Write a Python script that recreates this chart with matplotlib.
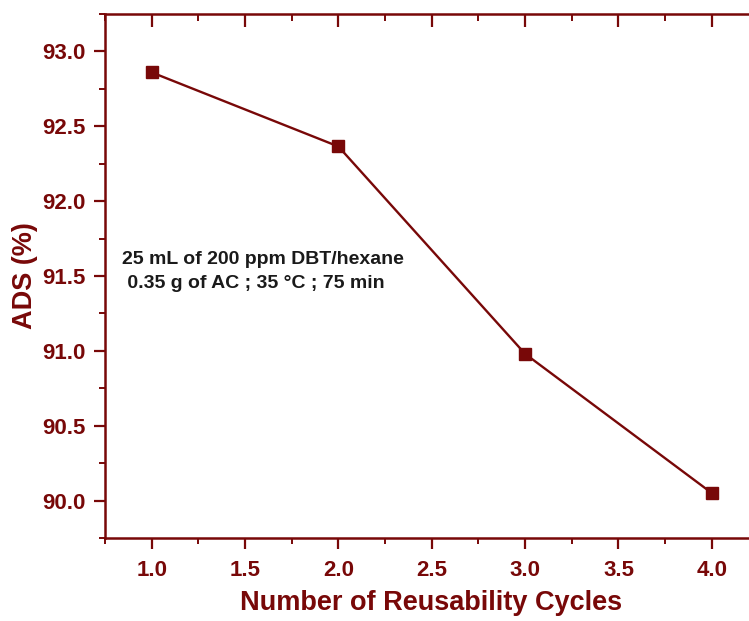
import matplotlib
matplotlib.use("Agg")
import matplotlib.pyplot as plt
from matplotlib.ticker import MultipleLocator
import matplotlib.lines as mlines

cycles = [1.0, 2.0, 3.0, 4.0]
ads = [92.86, 92.365, 90.98, 90.05]
xticks = [1.0, 1.5, 2.0, 2.5, 3.0, 3.5, 4.0]
yticks = [90.0, 90.5, 91.0, 91.5, 92.0, 92.5, 93.0]

col = "#780808"
plt.rcParams['font.family'] = ['Liberation Sans', 'DejaVu Sans']
plt.rcParams['font.weight'] = 'bold'

fig = plt.figure(figsize=(7.49, 6.21), dpi=100)
W, H = 749, 621
ax = fig.add_axes([105 / W, 83 / H, 653.5 / W, 524 / H])

ax.plot(cycles, ads, color=col, lw=1.7, marker='s', markersize=8.5,
        markerfacecolor=col, markeredgecolor=col)

ax.set_xlim(0.75, 4.25)
ax.set_ylim(89.75, 93.25)
ax.set_xticks(xticks)
ax.set_yticks(yticks)
ax.set_xticklabels([f"{v:.1f}" for v in xticks])
ax.set_yticklabels([f"{v:.1f}" for v in yticks])
ax.xaxis.set_minor_locator(MultipleLocator(0.25))
ax.yaxis.set_minor_locator(MultipleLocator(0.25))

for s in ax.spines.values():
    s.set_color(col)
    s.set_linewidth(1.8)

ax.tick_params(axis='both', which='major', colors=col, labelcolor=col,
               labelsize=16, width=1.6, length=8, direction='out')
ax.tick_params(axis='both', which='minor', colors=col, width=1.4, length=4, direction='out')
ax.tick_params(axis='x', which='both', top=True)
ax.tick_params(axis='x', which='major', pad=8)
ax.tick_params(axis='y', which='major', pad=6)
# top ticks inward
for t in ax.xaxis.get_major_ticks():
    t.tick2line.set_marker(mlines.TICKDOWN)
    t.tick2line.set_markersize(9)
for t in ax.xaxis.get_minor_ticks():
    t.tick2line.set_marker(mlines.TICKDOWN)
    t.tick2line.set_markersize(5)

for lab in ax.get_xticklabels() + ax.get_yticklabels():
    lab.set_fontweight('bold')

ax.set_xlabel("Number of Reusability Cycles", fontsize=19.5, fontweight='bold', color=col)
ax.xaxis.set_label_coords((431 - 105) / 653.5, -(603 - 538) / 524)
ax.xaxis.label.set_va('center')
ax.set_ylabel("ADS (%)", fontsize=19.5, fontweight='bold', color=col)
ax.yaxis.set_label_coords(-(105 - 25) / 653.5, (538 - 276) / 524)
ax.yaxis.label.set_va('center')

ax.text(0.84, 91.53, "25 mL of 200 ppm DBT/hexane\n 0.35 g of AC ; 35 \u00b0C ; 75 min",
        fontsize=14, fontweight='bold', color='#1a1a1a',
        va='center', ha='left', linespacing=1.55)

fig.savefig("out.png", dpi=100)
